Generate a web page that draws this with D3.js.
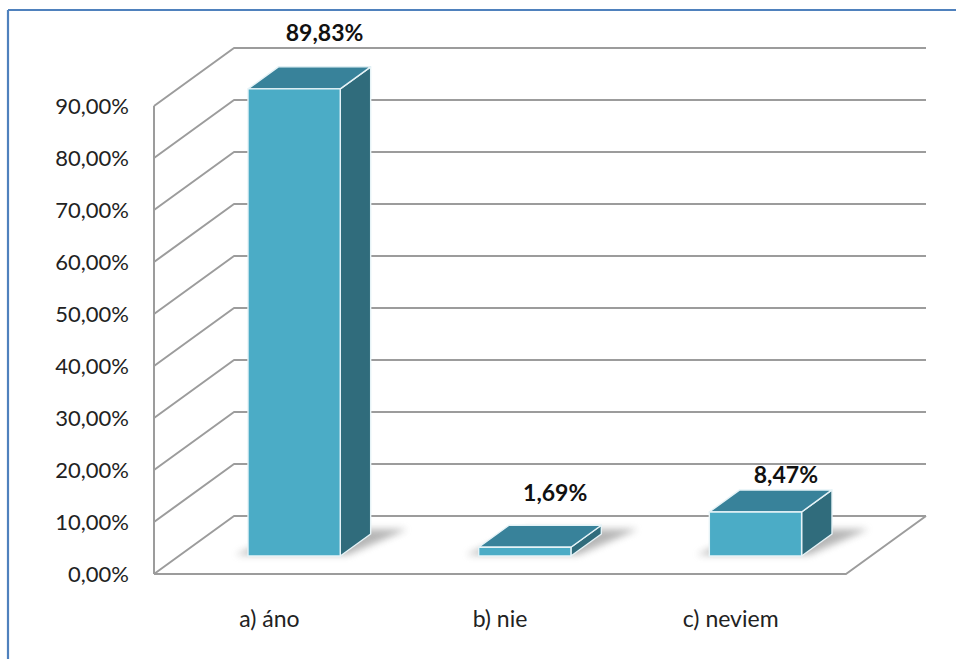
<!DOCTYPE html>
<html>
<head>
<meta charset="utf-8">
<script src="https://cdn.jsdelivr.net/npm/d3@7"></script>
<style>
  html, body { margin: 0; padding: 0; background: #fff; }
  svg { display: block; }
  text { font-family: Lato, "Noto Sans", sans-serif; }
</style>
</head>
<body>
<svg id="chart" width="956" height="659"></svg>
<script>
// Survey answers and their shares (in percent)
const categories = ["a) áno", "b) nie", "c) neviem"];
const values = [89.83, 1.69, 8.47];
const valueLabels = ["89,83%", "1,69%", "8,47%"];
const tickValues = [0, 10, 20, 30, 40, 50, 60, 70, 80, 90];
const tickLabels = ["0,00%", "10,00%", "20,00%", "30,00%", "40,00%", "50,00%", "60,00%", "70,00%", "80,00%", "90,00%"];

const svg = d3.select("#chart");

// Front plane of the 3D box and its depth offset (oblique projection)
const front = { left: 154, right: 846, bottom: 574, top: 106 };
const depth = { dx: 80, dy: -58 };

const x = d3.scaleBand().domain(categories).range([front.left, front.right]);
const y = d3.scaleLinear().domain([0, 90]).range([front.bottom, front.top]);

// project (front-plane x, value, depth fraction z) to screen
const P = (px, v, z) => [px + depth.dx * z, y(v) + depth.dy * z];

const colors = {
  front: "#4bacc6",
  top: "#38829a",
  side: "#306c7c",
  edge: "#e6f3f7",
  grid: "#9c9c9c",
  frame: "#4f81bd",
  text: "#222"
};

const defs = svg.append("defs");
defs.append("filter").attr("id", "soft").attr("x", "-30%").attr("y", "-30%").attr("width", "160%").attr("height", "160%")
  .append("feGaussianBlur").attr("stdDeviation", 3.5);

// outer frame (top and left edges fall inside the view)
svg.append("line").attr("x1", 8).attr("y1", 10).attr("x2", 956).attr("y2", 10)
  .attr("stroke", colors.frame).attr("stroke-width", 2.2);
svg.append("line").attr("x1", 8).attr("y1", 10).attr("x2", 8).attr("y2", 659)
  .attr("stroke", colors.frame).attr("stroke-width", 2.2);

const line = d3.line();
const grid = svg.append("g").attr("fill", "none").attr("stroke", colors.grid).attr("stroke-width", 2)
  .attr("stroke-linejoin", "round");

// left wall: front edge and one diagonal per tick, continuing along the back wall
grid.append("path").attr("d", line([P(front.left, 0, 0), P(front.left, 90, 0)]));
tickValues.forEach(v => {
  grid.append("path").attr("d", line([P(front.left, v, 0), P(front.left, v, 1), P(front.right, v, 1)]));
});
// floor: front and right edges
grid.append("path").attr("d", line([P(front.left, 0, 0), P(front.right, 0, 0), P(front.right, 0, 1)]));

// bars
const bw = x.bandwidth() * 0.4;
const z0 = 0.31, z1 = 0.69;
const bars = svg.append("g");

categories.forEach((c, i) => {
  const v = values[i];
  const xl = x(c) + (x.bandwidth() - bw) / 2;
  const xr = xl + bw;
  const g = bars.append("g");

  // soft floor shadow
  g.append("path")
    .attr("d", line([P(xl - 14, 0, z0 + 0.02), P(xr + 6, 0, z0 + 0.02), P(xr + 30, 0, z1 + 0.08), P(xl + 10, 0, z1 + 0.08)]) + "Z")
    .attr("fill", "#7a7a7a").attr("opacity", 0.55).attr("filter", "url(#soft)");

  const face = (pts, fill) => g.append("path").attr("d", line(pts) + "Z")
    .attr("fill", fill).attr("stroke", colors.edge).attr("stroke-width", 1.4).attr("stroke-linejoin", "round");

  face([P(xr, 0, z0), P(xr, 0, z1), P(xr, v, z1), P(xr, v, z0)], colors.side);
  face([P(xl, v, z0), P(xr, v, z0), P(xr, v, z1), P(xl, v, z1)], colors.top);
  face([P(xl, 0, z0), P(xr, 0, z0), P(xr, v, z0), P(xl, v, z0)], colors.front);
});

// value labels above the top face, with small per-bar offsets
const labelShift = [-26, -24, -7];
categories.forEach((c, i) => {
  const xl = x(c) + (x.bandwidth() - bw) / 2;
  const p = P(xl + bw / 2, values[i], z1);
  svg.append("text")
    .attr("x", p[0]).attr("y", p[1] + labelShift[i])
    .attr("text-anchor", "middle")
    .attr("font-size", 23).attr("font-weight", 700).attr("fill", "#111")
    .text(valueLabels[i]);
});

// value axis on the front edge of the left wall
const yAxis = d3.axisLeft(y).tickValues(tickValues)
  .tickFormat((d, i) => tickLabels[i]).tickSize(0).tickPadding(25);
const ya = svg.append("g").attr("transform", `translate(${front.left},0)`).call(yAxis);
ya.select(".domain").remove();
ya.selectAll("text").attr("font-size", 22).attr("fill", colors.text).style("font-family", "Lato, 'Noto Sans', sans-serif");

// category axis below the floor
const xAxis = d3.axisBottom(x).tickSize(0).tickPadding(37);
const xa = svg.append("g").attr("transform", `translate(0,${front.bottom})`).call(xAxis);
xa.select(".domain").remove();
xa.selectAll("text").attr("font-size", 23).attr("fill", colors.text).style("font-family", "Lato, 'Noto Sans', sans-serif");
</script>
</body>
</html>
